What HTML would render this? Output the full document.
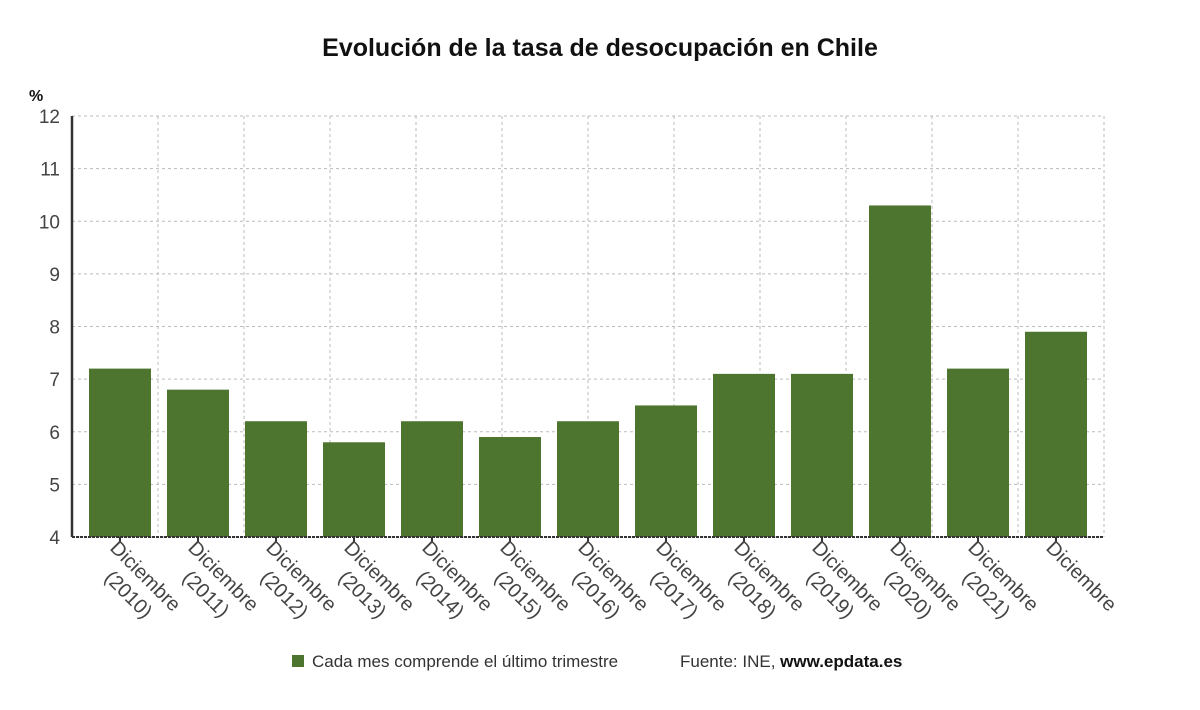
<!DOCTYPE html>
<html><head><meta charset="utf-8"><style>
body{margin:0;background:#fff;font-family:"Liberation Sans",sans-serif;}
</style></head><body>
<svg id="chart" width="1200" height="705" xmlns="http://www.w3.org/2000/svg" font-family="Liberation Sans, sans-serif">
<text x="600" y="56" text-anchor="middle" font-size="25" font-weight="bold" fill="#111">Evolución de la tasa de desocupación en Chile</text>
<text x="29" y="101" font-size="16" font-weight="bold" fill="#111">%</text>
<g id="grid"></g><g id="bars"></g><g id="axes"></g><g id="labels"></g>
<g>
<rect x="292" y="655" width="12" height="12" fill="#4e7530"/>
<text x="312" y="667" font-size="17" fill="#333">Cada mes comprende el último trimestre</text>
<text x="680" y="667" font-size="17" fill="#333">Fuente: INE, <tspan font-weight="bold" fill="#111">www.epdata.es</tspan></text>
</g>
</svg>
<script>
const categories=["Diciembre (2010)","Diciembre (2011)","Diciembre (2012)","Diciembre (2013)","Diciembre (2014)","Diciembre (2015)","Diciembre (2016)","Diciembre (2017)","Diciembre (2018)","Diciembre (2019)","Diciembre (2020)","Diciembre (2021)","Diciembre"];
const values=[7.2,6.8,6.2,5.8,6.2,5.9,6.2,6.5,7.1,7.1,10.3,7.2,7.9];
const yTicks=[4,5,6,7,8,9,10,11,12];
const NS="http://www.w3.org/2000/svg";
const L=72,R=1104,T=116,B=537,yMin=4,yMax=12;
const y=v=>B-(v-yMin)/(yMax-yMin)*(B-T);
const x=i=>120+i*78;
function mk(p,t,a){const e=document.createElementNS(NS,t);for(const k in a)e.setAttribute(k,a[k]);p.appendChild(e);return e;}
const grid=document.getElementById('grid'),bars=document.getElementById('bars'),axes=document.getElementById('axes'),labels=document.getElementById('labels');
yTicks.forEach(t=>{
  const l=mk(grid,'line',{x1:L,x2:R,y1:y(t),y2:y(t),stroke:'#bbb','stroke-dasharray':'3,3'});
  
  
  const tx=mk(axes,'text',{x:L-12,y:y(t)+7,'text-anchor':'end','font-size':'19',fill:'#444'});
  tx.textContent=t;
  
  
});
for(let k=1;k<=12;k++){
  const gx=L+k*(R-L)/12;
  const l=mk(grid,'line',{x1:gx,x2:gx,y1:T,y2:B,stroke:'#bbb','stroke-dasharray':'3,3'});
  
  
}
values.forEach((v,i)=>{
  const r=mk(bars,'rect',{x:x(i)-31,y:y(v),width:62,height:B-y(v),fill:'#4e7530'});
  
  
  const tk=mk(axes,'line',{x1:x(i),x2:x(i),y1:B,y2:B+5,stroke:'#333','stroke-width':2});
  
  
  const parts=categories[i].split(' ');
  const t=mk(labels,'text',{transform:`translate(${x(i)-11},${B+12}) rotate(45)`,'font-size':'20',fill:'#444'});
  
  
  parts.forEach((p,j)=>{const s=mk(t,'tspan',{x:j?17:0,dy:j?25:0});s.textContent=p;});
});
const ax=mk(axes,'line',{x1:L,x2:L,y1:T,y2:B,stroke:'#333','stroke-width':2.5});


const bx=mk(axes,'line',{x1:L,x2:R,y1:B,y2:B,stroke:'#333','stroke-width':2,'stroke-dasharray':'3,1'});


</script>
</body></html>
